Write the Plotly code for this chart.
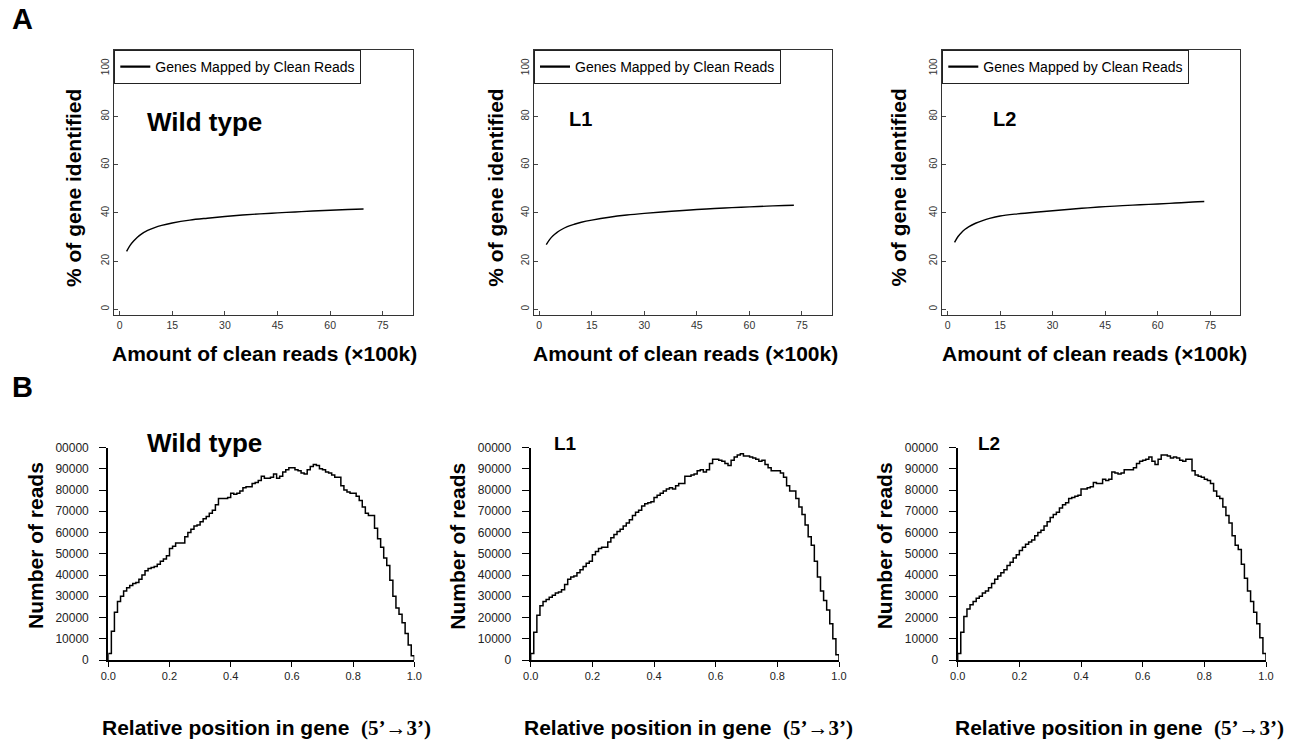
import numpy as np
import plotly.graph_objects as go

W, H = 1296, 742

# ---------------- data ----------------
samples = ["Wild type", "L1", "L2"]
legend_name = "Genes Mapped by Clean Reads"

# Panel A: saturation curves (x = clean reads, x100k ; y = % of genes identified)
sat_x_wt = [2, 3, 4, 5, 6, 8, 10, 12, 15, 20, 25, 30, 35, 40, 45, 50, 55, 60, 65, 69.5]
sat_y_wt = [24.0, 26.5, 28.3, 29.8, 31.0, 32.7, 33.9, 34.8, 35.8, 37.0, 37.8, 38.5, 39.1,
            39.6, 40.0, 40.4, 40.8, 41.1, 41.4, 41.6]
sat_x_l1 = [2, 3, 4, 5, 6, 8, 10, 12, 15, 20, 25, 30, 35, 40, 45, 50, 55, 60, 65, 70, 72.7]
sat_y_l1 = [26.8, 29.0, 30.6, 31.8, 32.8, 34.3, 35.3, 36.1, 37.0, 38.2, 39.1, 39.8, 40.4,
            40.9, 41.4, 41.8, 42.2, 42.5, 42.8, 43.1, 43.2]
sat_x_l2 = [2, 3, 4, 5, 6, 8, 10, 12, 15, 20, 25, 30, 35, 40, 45, 50, 55, 60, 65, 70, 73.3]
sat_y_l2 = [27.8, 30.2, 31.9, 33.2, 34.2, 35.7, 36.8, 37.7, 38.7, 39.6, 40.3, 40.9, 41.5,
            42.1, 42.6, 43.0, 43.4, 43.7, 44.1, 44.5, 44.7]

sat_xticks = [0, 15, 30, 45, 60, 75]
sat_yticks = [0, 20, 40, 60, 80, 100]

# Panel B: read distribution along genes (100 bins from 5' to 3')
cov_wt = [3000, 13500, 22500, 27500, 30000, 32500, 34000, 35000, 36000, 36500,
          38000, 40000, 42000, 43000, 43500, 44000, 45000, 46500, 47500, 49000,
          52500, 53500, 55000, 55000, 55000, 58000, 60000, 61500, 63000, 63500,
          65000, 66500, 67500, 69000, 70500, 73000, 76000, 76000, 76000, 76500,
          78500, 78000, 78500, 79500, 81000, 81500, 81500, 83000, 83500, 84500,
          86500, 85500, 85500, 86000, 87500, 85500, 86500, 88500, 89500, 90500,
          90500, 89500, 89000, 88000, 87500, 89500, 91000, 92000, 91500, 90000,
          89500, 88500, 88000, 87000, 86000, 86000, 82000, 80000, 79000, 78500,
          78500, 77000, 75000, 72000, 69000, 68000, 68000, 62000, 57000, 53000,
          48000, 44500, 37500, 30000, 24500, 21500, 17500, 12500, 7000, 2000]
cov_l1 = [3000, 13000, 21000, 25500, 27500, 28500, 29500, 30500, 31500, 32000,
          33000, 35500, 38000, 39000, 39500, 41000, 42500, 44000, 45500, 46500,
          49500, 51000, 52500, 53000, 53000, 55500, 57500, 59000, 60500, 61500,
          63000, 64500, 66000, 68000, 69500, 70500, 72500, 73500, 74000, 74500,
          76500, 77500, 78500, 79500, 80500, 81000, 80500, 82000, 83000, 83000,
          86500, 86500, 87000, 87500, 89000, 89500, 88500, 89500, 92500, 94500,
          94500, 94000, 93500, 92500, 91500, 94000, 95500, 96500, 97000, 96000,
          96000, 95500, 95000, 94500, 93500, 94000, 92000, 90500, 89000, 89000,
          89000, 88000, 86000, 82000, 79500, 79500, 76000, 72000, 68500, 63500,
          58000, 54000, 46500, 39000, 32500, 28000, 23500, 17000, 10000, 2500]
cov_l2 = [3000, 13000, 20500, 24000, 26000, 27500, 29000, 30000, 31500, 32500,
          34000, 36000, 38000, 39500, 41000, 42500, 44500, 46000, 48000, 49500,
          51500, 53000, 54500, 55500, 56500, 58500, 60000, 61000, 63000, 65000,
          67000, 68500, 69500, 71500, 73000, 74000, 76000, 76500, 77000, 77500,
          80500, 80500, 81000, 81500, 83500, 83000, 83000, 85000, 84500, 85000,
          88500, 88000, 87500, 88000, 89500, 89500, 89500, 90500, 92500, 93500,
          94000, 94500, 95500, 93500, 92000, 94500, 96500, 96500, 96000, 95000,
          95500, 95000, 94000, 93500, 94500, 94500, 89000, 87000, 86500, 86000,
          85000, 84500, 83000, 79500, 77000, 76000, 72000, 68000, 64500, 58500,
          54000, 52000, 45000, 38500, 32500, 27500, 22500, 17000, 10500, 3000]

cov_xticks = [0.0, 0.2, 0.4, 0.6, 0.8, 1.0]
cov_xticklabels = ["0.0", "0.2", "0.4", "0.6", "0.8", "1.0"]
cov_yticks = [0, 10000, 20000, 30000, 40000, 50000, 60000, 70000, 80000, 90000, 100000]
cov_yticklabels = ["0", "10000", "20000", "30000", "40000", "50000", "60000", "70000",
                   "80000", "90000", "00000"]

# ---------------- layout helpers ----------------
FONT = "Liberation Sans, Arial, sans-serif"


def px(v):
    return v / W


def py(v):
    return 1 - v / H


top_x_dom = [(114.3, 412.7), (534.0, 831.7), (942.3, 1240.0)]
top_y_dom = (50.0, 315.0)
bot_x_dom = [(108.3, 414.3), (530.7, 839.0), (957.7, 1266.0)]
bot_y_dom = (447.5, 660.0)

fig = go.Figure()

sat_x = [sat_x_wt, sat_x_l1, sat_x_l2]
sat_y = [sat_y_wt, sat_y_l1, sat_y_l2]
covs = [cov_wt, cov_l1, cov_l2]
legend_ids = ["legend", "legend2", "legend3"]

layout = dict(
    width=W, height=H,
    margin=dict(l=0, r=0, t=0, b=0, pad=0, autoexpand=False),
    paper_bgcolor="white", plot_bgcolor="white",
    font=dict(family=FONT, color="black"),
    template="none",
)

annotations = []

for i in range(3):
    # ---- top panels ----
    ax_idx = i + 1
    xa = "xaxis" if ax_idx == 1 else f"xaxis{ax_idx}"
    ya = "yaxis" if ax_idx == 1 else f"yaxis{ax_idx}"
    xr = "x" if ax_idx == 1 else f"x{ax_idx}"
    yr = "y" if ax_idx == 1 else f"y{ax_idx}"
    fig.add_trace(go.Scatter(
        x=sat_x[i], y=sat_y[i], mode="lines", name=legend_name,
        line=dict(color="black", width=1.4, shape="spline"),
        xaxis=xr, yaxis=yr, showlegend=False,
    ))
    # legend entry (thicker key line, as in the reference legend)
    fig.add_trace(go.Scatter(
        x=[None], y=[None], mode="lines", name=legend_name,
        line=dict(color="black", width=2.3),
        xaxis=xr, yaxis=yr, legend=legend_ids[i], showlegend=True, hoverinfo="skip",
    ))
    layout[xa] = dict(
        domain=[px(top_x_dom[i][0]), px(top_x_dom[i][1])], anchor=yr,
        range=[-1.5, 83.5], tickvals=sat_xticks, ticks="inside", ticklen=4,
        tickcolor="#444", showline=True, mirror=True, linecolor="#333", linewidth=1,
        showgrid=False, zeroline=False, automargin=False,
        tickfont=dict(size=10.5, color="#333"),
    )
    layout[ya] = dict(
        domain=[py(top_y_dom[1]), py(top_y_dom[0])], anchor=xr,
        range=[-2.37, 107.6], tickvals=sat_yticks, ticks="inside", ticklen=4,
        tickcolor="#444", showline=True, mirror=True, linecolor="#333", linewidth=1,
        showgrid=False, zeroline=False, tickangle=-90, automargin=False,
        tickfont=dict(size=10, color="#333"),
    )
    lg = dict(
        x=px(top_x_dom[i][0]), y=py(top_y_dom[0]), xanchor="left", yanchor="top",
        bordercolor="#222", borderwidth=1, bgcolor="white",
        font=dict(size=14, family=FONT, color="black"),
    )
    layout[legend_ids[i]] = lg

    # ---- bottom panels ----
    b_idx = i + 4
    xa = f"xaxis{b_idx}"
    ya = f"yaxis{b_idx}"
    xr = f"x{b_idx}"
    yr = f"y{b_idx}"
    vals = covs[i]
    edges = np.linspace(0.0, 1.0, len(vals) + 1)
    xs = np.concatenate([[0.0], edges])
    ys = [0] + list(vals) + [0]
    fig.add_trace(go.Scatter(
        x=xs, y=ys, mode="lines", line=dict(color="black", width=1.5, shape="hv"),
        xaxis=xr, yaxis=yr, showlegend=False, hoverinfo="skip",
    ))
    layout[xa] = dict(
        domain=[px(bot_x_dom[i][0]), px(bot_x_dom[i][1])], anchor=yr,
        range=[0, 1], tickvals=cov_xticks, ticktext=cov_xticklabels,
        ticks="outside", ticklen=5, tickwidth=1.2, tickcolor="black",
        showline=True, linecolor="black", linewidth=2.2, mirror=False,
        showgrid=False, zeroline=False, automargin=False,
        tickfont=dict(size=11, color="#222"),
    )
    layout[ya] = dict(
        domain=[py(bot_y_dom[1]), py(bot_y_dom[0])], anchor=xr,
        range=[0, 100000], tickvals=cov_yticks, ticktext=cov_yticklabels,
        ticks="outside", ticklen=7, tickwidth=1.2, tickcolor="black",
        showline=True, linecolor="black", linewidth=2.2, mirror=False,
        showgrid=False, zeroline=False, automargin=False,
        tickfont=dict(size=12, color="#222"), ticklabelstandoff=8,
    )

# panel letters
annotations.append(dict(text="<b>A</b>", x=px(10), y=py(19), xref="paper", yref="paper",
                        xanchor="left", yanchor="middle", showarrow=False,
                        font=dict(size=29, family=FONT)))
annotations.append(dict(text="<b>B</b>", x=px(9.5), y=py(386.5), xref="paper", yref="paper",
                        xanchor="left", yanchor="middle", showarrow=False,
                        font=dict(size=29, family=FONT)))

# sample labels
top_lbl = [(204.3, 122, 26), (580.0, 119, 20), (1004.0, 119, 20)]
bot_lbl = [(204.5, 443, 26), (565.0, 443, 19), (989.3, 443, 19)]
for i in range(3):
    for (cx, cy, fs) in (top_lbl[i], bot_lbl[i]):
        annotations.append(dict(text=f"<b>{samples[i]}</b>", x=px(cx), y=py(cy),
                                xref="paper", yref="paper", xanchor="center",
                                yanchor="middle", showarrow=False,
                                font=dict(size=fs, family=FONT)))

# axis titles
top_ytitle = [74.0, 495.7, 898.5]
top_xtitle = [264.0, 685.0, 1094.7]
bot_ytitle = [35.0, 456.7, 884.3]
bot_xtitle = [266.0, 688.0, 1119.0]
for i in range(3):
    annotations.append(dict(text="<b>% of gene identified</b>", x=px(top_ytitle[i]), y=py(188),
                            xref="paper", yref="paper", textangle=-90, showarrow=False,
                            xanchor="center", yanchor="middle", font=dict(size=21, family=FONT)))
    annotations.append(dict(text="<b>Amount of clean reads (×100k)</b>", x=px(top_xtitle[i]),
                            y=py(353), xref="paper", yref="paper", showarrow=False,
                            xanchor="center", yanchor="middle", font=dict(size=21, family=FONT)))
    annotations.append(dict(text="<b>Number of reads</b>", x=px(bot_ytitle[i]), y=py(546),
                            xref="paper", yref="paper", textangle=-90, showarrow=False,
                            xanchor="center", yanchor="middle", font=dict(size=21, family=FONT)))
    annotations.append(dict(
        text="<b>Relative position in gene\u00a0\u00a0"
             "<span style=\"font-family:'Liberation Serif', 'Times New Roman', serif\">(5’→3’)</span></b>",
        x=px(bot_xtitle[i]), y=py(728), xref="paper", yref="paper", showarrow=False,
        xanchor="center", yanchor="middle", font=dict(size=21, family=FONT)))

layout["annotations"] = annotations
fig.update_layout(**layout)

fig.write_html("out.html",
               config={"displayModeBar": False},
               post_script="document.body.style.margin='0';document.body.style.overflow='hidden';")
